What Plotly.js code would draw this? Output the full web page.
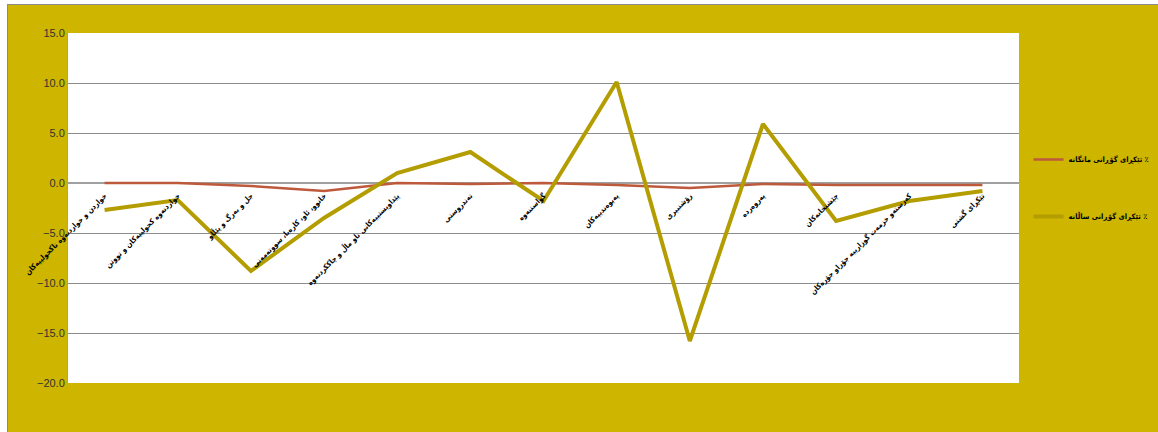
<!DOCTYPE html>
<html>
<head>
<meta charset="utf-8">
<script src="https://cdn.plot.ly/plotly-3.0.1.min.js"></script>
<style>
html,body{margin:0;padding:0;background:#ffffff;width:1158px;height:432px;overflow:hidden;}
#wrap{position:absolute;left:7px;top:4px;width:1151px;height:428px;border-top:1px solid #8a8a8a;border-left:1px solid #8a8a8a;box-sizing:border-box;}
#chart{width:1150px;height:427px;}
</style>
</head>
<body>
<div id="wrap"><div id="chart"></div></div>
<script>
var categories = [
  "خواردن و خواردنەوە ناكحولییەكان",
  "خواردنەوە كحولییەكان و تووتن",
  "جل و بەرگ و پێڵاو",
  "خانوو، ئاو، كارەبا، سووتەمەنی",
  "پێداویستییەكانی ناو ماڵ و چاككردنەوە",
  "تەندروستی",
  "گواستنەوە",
  "پەیوەندییەكان",
  "رۆشنبیری",
  "پەروەردە",
  "چێشتخانەكان",
  "كەرستەو خزمەت گوزارییە جۆراو جۆرەكان",
  "تێكڕای گشتی"
];
var monthly = [0.0, 0.0, -0.3, -0.8, 0.0, -0.1, 0.0, -0.2, -0.5, -0.1, -0.2, -0.2, -0.2];
var annual  = [-2.7, -1.7, -8.8, -3.5, 1.0, 3.1, -1.8, 10.1, -15.8, 5.9, -3.8, -1.8, -0.8];
var seriesNames = ["تێكڕای گۆڕانی مانگانە ٪", "تێكڕای گۆڕانی ساڵانە ٪"];
var yTicks = [-20, -15, -10, -5, 0, 5, 10, 15];

var traces = [
  {x: categories, y: monthly, name: seriesNames[0], type: 'scatter', mode: 'lines',
   line: {color: '#BE5A3C', width: 2.5}, legendgroup: 'a'},
  {x: categories, y: annual, name: seriesNames[1], type: 'scatter', mode: 'lines',
   line: {color: '#B49D00', width: 4}, legendgroup: 'b'}
];

var layout = {
  width: 1150, height: 427,
  paper_bgcolor: '#CDB500',
  plot_bgcolor: '#ffffff',
  margin: {l: 60, r: 139, t: 28, b: 49, autoexpand: false},
  showlegend: true,
  legend: {x: 1.01, y: 0.68, xanchor: 'left', yanchor: 'top',
    bgcolor: 'rgba(0,0,0,0)', tracegroupgap: 38, itemwidth: 30,
    font: {family: 'DejaVu Sans Condensed, DejaVu Sans', size: 7.5, color: '#000000', weight: 'bold'}},
  xaxis: {
    type: 'category',
    anchor: 'free', position: 20/35,
    showgrid: false, zeroline: false, showline: false,
    ticks: '', tickangle: -45, ticklabelstandoff: 6,
    tickfont: {family: 'DejaVu Sans Condensed, DejaVu Sans', size: 7.5, color: '#000000', weight: 'bold'},
    range: [-0.5, 12.5], fixedrange: true
  },
  yaxis: {
    range: [-20, 15], tickvals: yTicks, tickformat: '.1f',
    showgrid: true, gridcolor: '#8c8c8c', gridwidth: 1,
    zeroline: true, zerolinecolor: '#a0a0a0', zerolinewidth: 1.5,
    showline: true, linecolor: '#a0a0a0', linewidth: 1,
    ticks: '', ticklen: 0,
    tickfont: {family: 'Liberation Sans', size: 11, color: '#333333'}
  }
};

Plotly.newPlot('chart', traces, layout, {displayModeBar: false, staticPlot: true});
</script>
</body>
</html>
